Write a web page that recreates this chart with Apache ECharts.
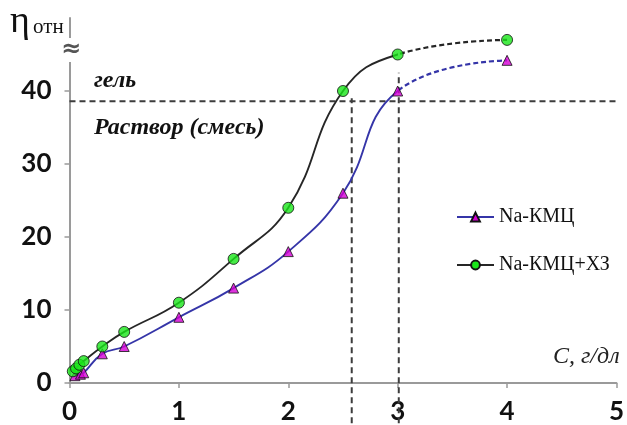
<!DOCTYPE html>
<html>
<head>
<meta charset="utf-8">
<script src="https://cdn.jsdelivr.net/npm/echarts@6/dist/echarts.min.js"></script>
<style>
  html, body { margin: 0; padding: 0; background: #fff; }
  #chart { width: 627px; height: 425px; }
</style>
</head>
<body>
<div id="chart"></div>
<script>
// Relative viscosity vs concentration, C (g/dl)
const concKmc = [0.05, 0.1, 0.13, 0.3, 0.5, 1, 1.5, 2, 2.5, 3, 4];
const etaKmc = [1.0, 1.2, 1.4, 4, 5, 9, 13, 18, 26, 40, 44.2];

const concKmcHz = [0.03, 0.06, 0.09, 0.13, 0.3, 0.5, 1, 1.5, 2, 2.5, 3, 4];
const etaKmcHz = [1.6, 2.0, 2.5, 3.0, 5, 7, 11, 17, 24, 40, 45, 47];

const xTicks = [0, 1, 2, 3, 4, 5];
const yTicks = [0, 10, 20, 30, 40];

// sol–gel boundary and the gel-point concentrations
const gelLevel = 38.6;
const gelConc = [2.58, 3.01];
const gelConcTop = [39, 42.5];
const dashFrom = 3; // measured range ends here, curves continue dashed

const nameKmc = 'Na-КМЦ';
const nameKmcHz = 'Na-КМЦ+ХЗ';

const blue = '#3535a8';
const black = '#262626';
const magenta = '#d400d4';
const green = '#19e619';
const clear = 'rgba(0,0,0,0)';

const pairs = (xs, ys) => xs.map((x, i) => [x, ys[i]]);
const kmc = pairs(concKmc, etaKmc);
const kmcHz = pairs(concKmcHz, etaKmcHz);

const chart = echarts.init(document.getElementById('chart'), null, { renderer: 'canvas' });

const dashStyle = { color: '#3d3d3d', width: 2, type: [6, 4] };

const curve = (data, dashed) => ({
  type: 'line',
  data: data,
  smooth: 0.45,
  showSymbol: false,
  silent: true,
  lineStyle: dashed ? { width: 2.2, type: [5, 3] } : { width: 1.9 },
  z: 3
});

// solid part up to dashFrom, dashed continuation after it
const split = (idx, color, dashed) => ({
  show: false, type: 'piecewise', dimension: 0, seriesIndex: idx,
  pieces: [
    { gte: -1, lt: dashFrom, color: dashed ? clear : color },
    { gte: dashFrom, lte: 6, color: dashed ? color : clear }
  ]
});

const option = {
  animation: false,
  backgroundColor: '#fff',
  grid: { left: 69.5, right: 7, top: 18, bottom: 38, containLabel: false },
  xAxis: {
    type: 'value', min: 0, max: 5, interval: 1,
    axisLine: { lineStyle: { color: '#9a9a9a', width: 2 } },
    axisTick: { show: true, length: 5, lineStyle: { color: '#9a9a9a', width: 1.5 } },
    splitLine: { show: false },
    axisLabel: {
      customValues: xTicks,
      margin: 16,
      color: '#111',
      fontFamily: 'Lato',
      fontWeight: 'bold',
      fontSize: 26
    }
  },
  yAxis: {
    type: 'value', min: 0, max: 50, interval: 10,
    axisLine: { show: true, lineStyle: { color: '#9a9a9a', width: 2 } },
    axisTick: { show: true, length: 5, customValues: yTicks, lineStyle: { color: '#9a9a9a', width: 1.5 } },
    splitLine: { show: false },
    axisLabel: {
      customValues: yTicks,
      margin: 18,
      color: '#111',
      fontFamily: 'Lato',
      fontWeight: 'bold',
      fontSize: 26
    }
  },
  legend: {
    data: [nameKmc, nameKmcHz],
    orient: 'vertical',
    left: 451,
    top: 202,
    itemGap: 28,
    itemWidth: 37,
    itemHeight: 11,
    textStyle: { fontFamily: 'Liberation Serif', fontSize: 20, color: '#111' }
  },
  visualMap: [
    split(2, blue, false),
    split(3, blue, true),
    split(4, black, false),
    split(5, black, true)
  ],
  series: [
    // legend entries
    { name: nameKmc, type: 'line', data: [], symbol: 'triangle', symbolSize: 10,
      lineStyle: { color: blue, width: 2 },
      itemStyle: { color: magenta, borderColor: '#111', borderWidth: 1 } },
    { name: nameKmcHz, type: 'line', data: [], symbol: 'circle', symbolSize: 10,
      lineStyle: { color: black, width: 2 },
      itemStyle: { color: green, borderColor: '#111', borderWidth: 1 } },
    // curves
    curve(kmc, false),
    curve(kmc, true),
    curve(kmcHz, false),
    curve(kmcHz, true),
    // markers
    { type: 'scatter', data: kmc, symbol: 'triangle', symbolSize: 10, silent: true, z: 5,
      itemStyle: { color: magenta, borderColor: '#111', borderWidth: 1 } },
    { type: 'scatter', data: kmcHz, symbol: 'circle', symbolSize: 11, silent: true, z: 6,
      itemStyle: { color: green, borderColor: '#111', borderWidth: 1 } },
    // sol–gel boundary
    { type: 'line', data: [[0, gelLevel], [5, gelLevel]], showSymbol: false, silent: true,
      lineStyle: dashStyle, z: 2 },
    { type: 'line', data: [[gelConc[0], -5.5], [gelConc[0], gelConcTop[0]]], showSymbol: false,
      silent: true, clip: false, lineStyle: dashStyle, z: 2 },
    { type: 'line', data: [[gelConc[1], -5.5], [gelConc[1], gelConcTop[1]]], showSymbol: false,
      silent: true, clip: false, lineStyle: dashStyle, z: 2 }
  ],
  graphic: [
    { type: 'text', left: 10, top: 3, style: { text: 'η', font: '38px "Liberation Serif"', fill: '#111' } },
    { type: 'text', left: 33, top: 17, style: { text: 'отн', font: '21px "Liberation Serif"', fill: '#111' } },
    { type: 'text', left: 61, top: 38, z: 10,
      style: { text: '≈', font: 'bold 24px "DejaVu Sans"', fill: '#555', backgroundColor: '#fff' } },
    { type: 'text', left: 94, top: 69, style: { text: 'гель', font: 'italic bold 24px "Liberation Serif"', fill: '#111' } },
    { type: 'text', left: 94, top: 116, style: { text: 'Раствор (смесь)', font: 'italic bold 24px "Liberation Serif"', fill: '#111' } },
    { type: 'text', left: 553, top: 345, style: { text: 'C, г/дл', font: 'italic 24px "Liberation Serif"', fill: '#222' } }
  ]
};

chart.setOption(option);
</script>
</body>
</html>
